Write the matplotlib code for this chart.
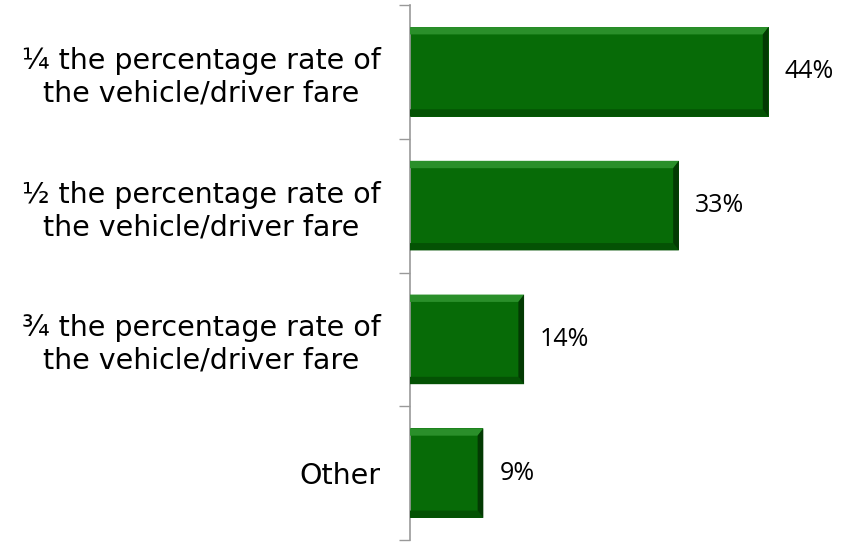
import matplotlib.pyplot as plt
from matplotlib.patches import Polygon
from matplotlib.transforms import offset_copy

categories = [
    "¼ the percentage rate of\nthe vehicle/driver fare",
    "½ the percentage rate of\nthe vehicle/driver fare",
    "¾ the percentage rate of\nthe vehicle/driver fare",
    "Other",
]
values = [44, 33, 14, 9]
value_labels = ["44%", "33%", "14%", "9%"]

fig = plt.figure(figsize=(8.5, 5.43), dpi=100)
ax = fig.add_axes([410 / 850, 3 / 543, 440 / 850, 535 / 543])

ypos = list(range(len(categories)))
h = 0.67
ax.barh(ypos, values, height=h, color="#076b07", edgecolor="none", zorder=2)

# bevel: light top, dark bottom/right, drawn in data units from each bar
for y, v in zip(ypos, values):
    top, bot = y - h / 2, y + h / 2
    d = 0.055
    dx = 0.7
    ax.add_patch(Polygon([(0, top), (v, top), (v - dx, top + d), (0, top + d)],
                         closed=True, color="#2a8f2a", zorder=3, lw=0))
    ax.add_patch(Polygon([(0, bot), (v, bot), (v - dx, bot - d), (0, bot - d)],
                         closed=True, color="#045204", zorder=3, lw=0))
    ax.add_patch(Polygon([(v, top), (v, bot), (v - dx, bot - d), (v - dx, top + d)],
                         closed=True, color="#033a03", zorder=3, lw=0))

ax.set_xlim(0, 54)
ax.set_ylim(len(categories) - 0.5, -0.5)

for y, v, lab in zip(ypos, values, value_labels):
    tr = offset_copy(ax.transData, fig=fig, x=16, y=0, units="dots")
    ax.text(v, y, lab, transform=tr, ha="left", va="center",
            fontsize=18, family="Open Sans", color="#000000")

ax.set_yticks(ypos)
ax.set_yticklabels(categories, fontsize=20.5, family="DejaVu Sans", ha="right",
                   multialignment="center", color="#000000")
ax.tick_params(axis="y", which="major", length=0, pad=21)
ax.set_yticks([-0.5, 0.5, 1.5, 2.5, 3.5], minor=True)
ax.tick_params(axis="y", which="minor", length=8, color="#999999", width=1)
ax.set_xticks([])

for s in ["top", "right", "bottom"]:
    ax.spines[s].set_visible(False)
ax.spines["left"].set_color("#999999")
ax.spines["left"].set_linewidth(1.2)

fig.savefig("out.png", dpi=100)
